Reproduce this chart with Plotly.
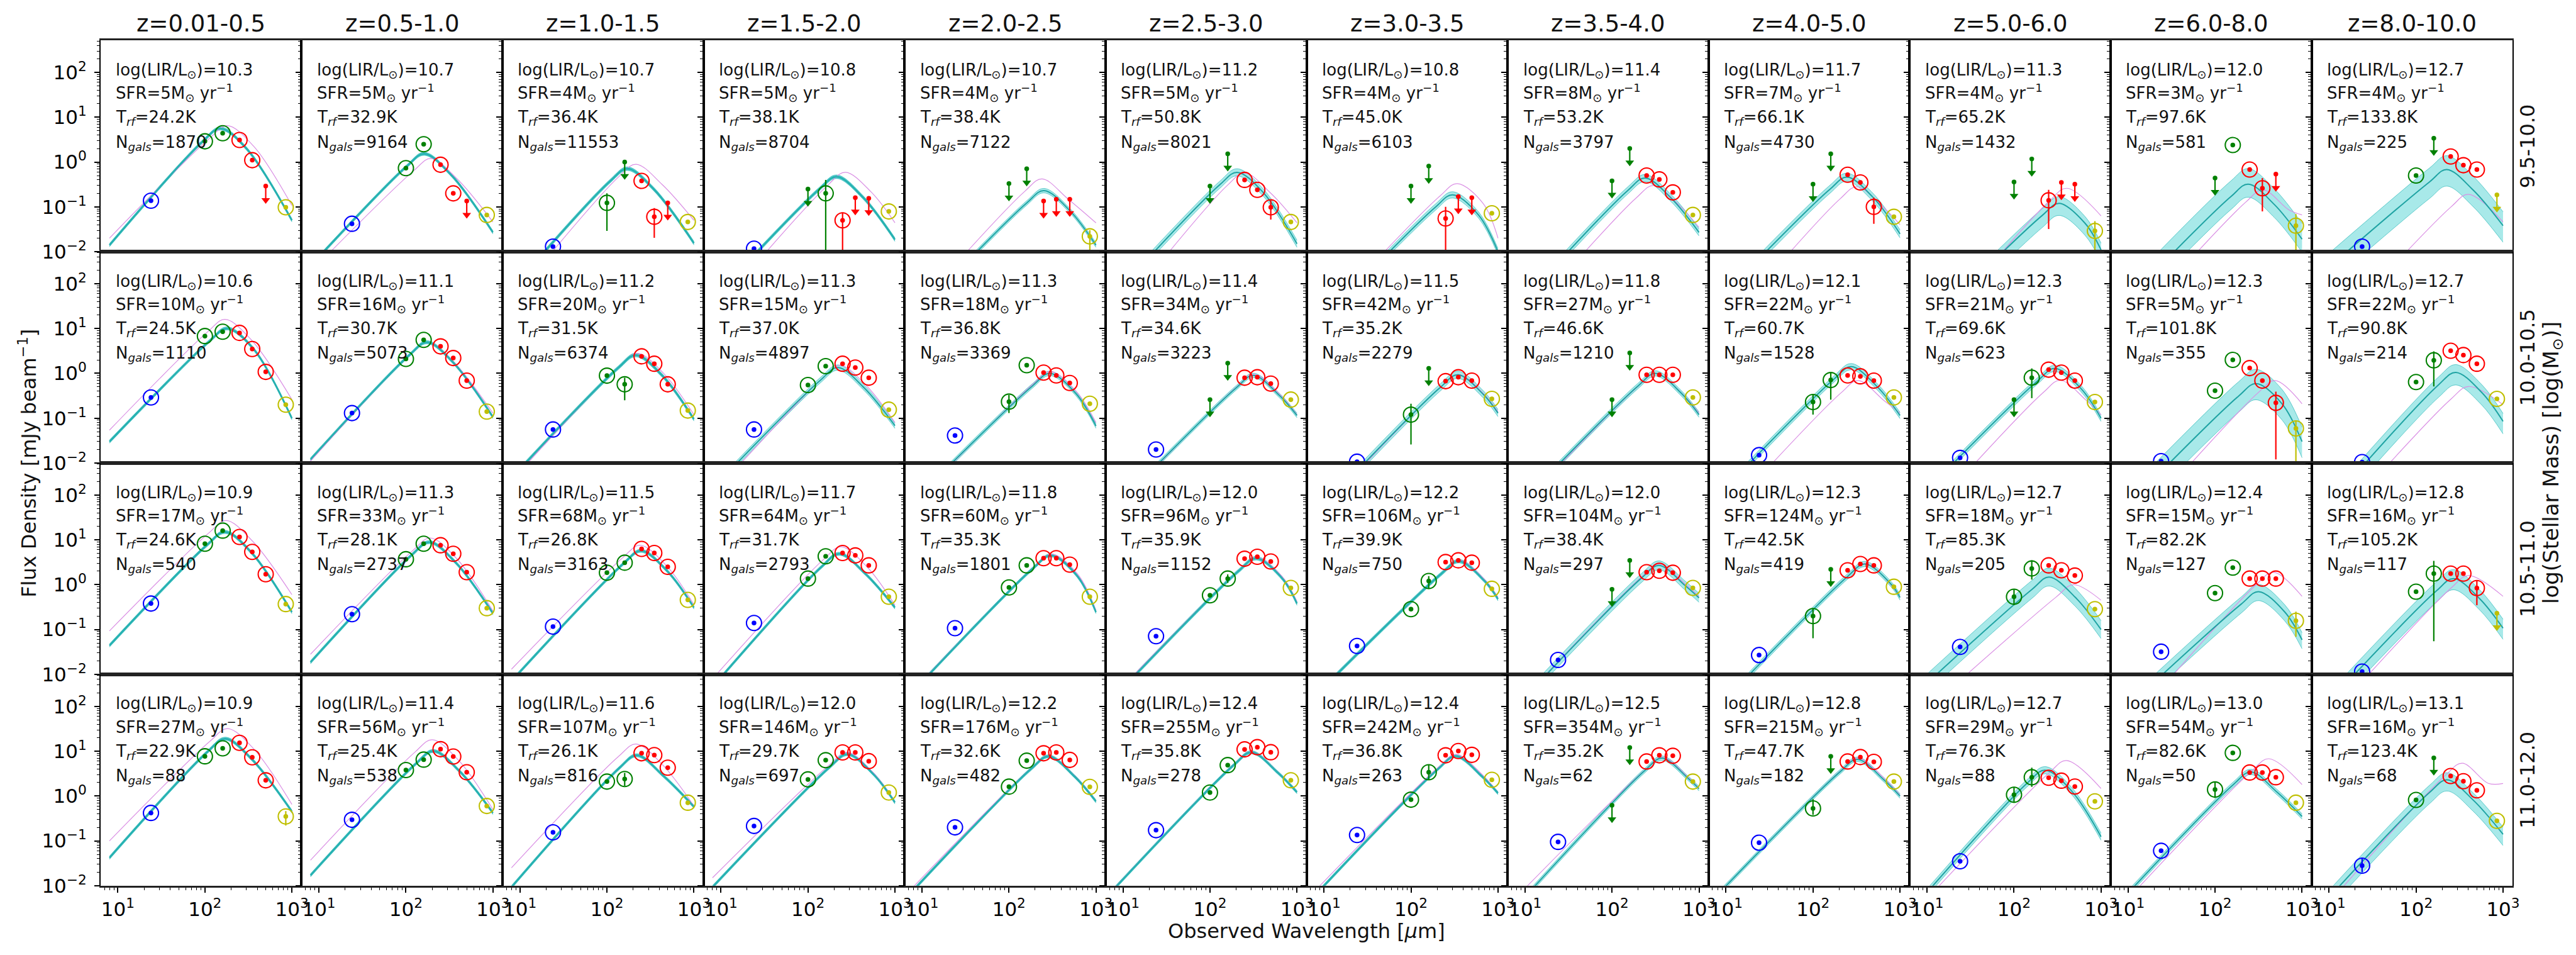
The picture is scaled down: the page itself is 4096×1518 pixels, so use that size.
import plotly.graph_objects as go

# ---------------------------------------------------------------- data
Z_BINS = ["z=0.01-0.5", "z=0.5-1.0", "z=1.0-1.5", "z=1.5-2.0", "z=2.0-2.5", "z=2.5-3.0",
          "z=3.0-3.5", "z=3.5-4.0", "z=4.0-5.0", "z=5.0-6.0", "z=6.0-8.0", "z=8.0-10.0"]
MASS_BINS = ["9.5-10.0", "10.0-10.5", "10.5-11.0", "11.0-12.0"]

LAMBDA = [24, 100, 160, 250, 350, 500, 850]          # observed wavelength [um]

LIR = [[10.3, 10.7, 10.7, 10.8, 10.7, 11.2, 10.8, 11.4, 11.7, 11.3, 12.0, 12.7],
       [10.6, 11.1, 11.2, 11.3, 11.3, 11.4, 11.5, 11.8, 12.1, 12.3, 12.3, 12.7],
       [10.9, 11.3, 11.5, 11.7, 11.8, 12.0, 12.2, 12.0, 12.3, 12.7, 12.4, 12.8],
       [10.9, 11.4, 11.6, 12.0, 12.2, 12.4, 12.4, 12.5, 12.8, 12.7, 13.0, 13.1]]
SFR = [[5, 5, 4, 5, 4, 5, 4, 8, 7, 4, 3, 4],
       [10, 16, 20, 15, 18, 34, 42, 27, 22, 21, 5, 22],
       [17, 33, 68, 64, 60, 96, 106, 104, 124, 18, 15, 16],
       [27, 56, 107, 146, 176, 255, 242, 354, 215, 29, 54, 16]]
TRF = [[24.2, 32.9, 36.4, 38.1, 38.4, 50.8, 45.0, 53.2, 66.1, 65.2, 97.6, 133.8],
       [24.5, 30.7, 31.5, 37.0, 36.8, 34.6, 35.2, 46.6, 60.7, 69.6, 101.8, 90.8],
       [24.6, 28.1, 26.8, 31.7, 35.3, 35.9, 39.9, 38.4, 42.5, 85.3, 82.2, 105.2],
       [22.9, 25.4, 26.1, 29.7, 32.6, 35.8, 36.8, 35.2, 47.7, 76.3, 82.6, 123.4]]
NGALS = [[1870, 9164, 11553, 8704, 7122, 8021, 6103, 3797, 4730, 1432, 581, 225],
         [1110, 5073, 6374, 4897, 3369, 3223, 2279, 1210, 1528, 623, 355, 214],
         [540, 2737, 3163, 2793, 1801, 1152, 750, 297, 419, 205, 127, 117],
         [88, 538, 816, 697, 482, 278, 263, 62, 182, 88, 50, 68]]

# stacked flux densities [mJy/beam] at LAMBDA (None = below the plotted range)
FLUX_M1 = [[0.137, 2.9, 4.4, 3.1, 1.1, 0.29, 0.098],
           [0.042, 0.73, 2.5, 0.87, 0.2, 0.135, 0.066],
           [0.013, 0.123, 1.0, 0.38, 0.06, 0.123, 0.046],
           [0.0117, 0.25, 0.2, 0.05, 0.16, 0.155, 0.079],
           [None, 0.33, 0.71, 0.135, 0.148, 0.148, 0.022],
           [None, 0.29, 1.53, 0.4, 0.24, 0.098, 0.046],
           [None, 0.29, 0.81, 0.055, 0.17, 0.16, 0.072],
           [None, 0.38, 2.0, 0.5, 0.41, 0.21, 0.066],
           [None, 0.32, 1.53, 0.52, 0.35, 0.1, 0.06],
           [None, 0.36, 1.17, 0.14, 0.35, 0.32, 0.029],
           [None, 0.44, 2.4, 0.68, 0.26, 0.54, 0.038],
           [0.013, 0.5, 3.4, 1.33, 0.85, 0.68, 0.185]]
FLUX_M2 = [[0.29, 6.8, 8.5, 8.0, 3.5, 1.08, 0.2],
           [0.13, 2.1, 5.6, 4.0, 2.2, 0.69, 0.14],
           [0.056, 0.89, 0.57, 2.4, 1.64, 0.57, 0.148],
           [0.056, 0.55, 1.45, 1.64, 1.35, 0.8, 0.155],
           [0.041, 0.234, 1.52, 1.04, 0.9, 0.61, 0.21],
           [0.02, 0.26, 1.69, 0.8, 0.82, 0.59, 0.26],
           [0.0107, 0.12, 1.29, 0.67, 0.82, 0.69, 0.27],
           [None, 0.26, 2.85, 0.93, 0.93, 0.93, 0.29],
           [0.015, 0.23, 0.71, 0.9, 0.86, 0.69, 0.29],
           [0.013, 0.26, 0.8, 1.21, 1.04, 0.69, 0.23],
           [0.011, 0.41, 2.0, 1.31, 0.69, 0.22, 0.059],
           [0.0105, 0.64, 1.96, 3.2, 2.56, 1.64, 0.27]]
FLUX_M3 = [[0.38, 8.2, 16.1, 11.6, 5.4, 1.71, 0.37],
           [0.22, 3.7, 8.2, 7.6, 4.9, 1.9, 0.3],
           [0.116, 1.85, 3.1, 6.3, 5.1, 2.5, 0.46],
           [0.14, 1.37, 4.3, 5.1, 4.5, 2.7, 0.54],
           [0.107, 0.87, 2.7, 3.9, 3.9, 2.8, 0.54],
           [0.071, 0.58, 1.37, 3.8, 4.2, 3.3, 0.85],
           [0.043, 0.285, 1.21, 3.2, 3.5, 3.1, 0.81],
           [0.021, 0.79, 3.5, 1.9, 2.05, 1.85, 0.85],
           [0.027, 0.2, 2.2, 2.1, 2.9, 2.7, 0.9],
           [0.041, 0.54, 2.3, 2.7, 2.1, 1.6, 0.285],
           [0.032, 0.65, 2.4, 1.37, 1.37, 1.37, 0.157],
           [0.0115, 0.7, 1.77, 1.77, 1.77, 0.84, 0.23]]
FLUX_M4 = [[0.42, 7.7, 11.6, 15.4, 7.3, 2.24, 0.35],
           [0.295, 3.8, 6.5, 11.1, 7.6, 3.4, 0.6],
           [0.155, 2.1, 2.4, 9.0, 8.2, 4.3, 0.71],
           [0.215, 2.35, 6.3, 9.4, 9.4, 6.0, 1.2],
           [0.2, 1.62, 6.15, 9.0, 9.4, 6.4, 1.6],
           [0.173, 1.2, 4.9, 11.0, 12.3, 9.5, 2.25],
           [0.135, 0.83, 3.4, 8.1, 10.1, 8.3, 2.3],
           [0.095, 0.62, 12.1, 5.9, 8.1, 7.9, 2.1],
           [0.091, 0.53, 7.7, 5.9, 7.4, 5.8, 2.1],
           [0.035, 1.07, 2.63, 2.56, 2.2, 1.63, 0.76],
           [0.06, 1.4, 9.2, 3.35, 3.35, 2.63, 0.71],
           [0.028, 0.82, 7.1, 2.8, 2.14, 1.34, 0.28]]
FLUX = [FLUX_M1, FLUX_M2, FLUX_M3, FLUX_M4]

# indices (into LAMBDA) that are upper limits
UPLIM = [[[5], [5], [2, 5], [1, 4, 5], [1, 2, 3, 4, 5], [1, 2], [1, 2, 4, 5], [1, 2], [1, 2],
          [1, 2, 4, 5], [1, 5], [2, 6]],
         [[], [], [], [], [], [1, 2], [2], [1, 2], [], [1], [], []],
         [[], [], [], [], [], [], [], [1, 2], [2], [], [], [6]],
         [[], [], [], [], [], [], [], [1, 2], [2], [], [], [2]]]

# (row, col, band) -> (lower, upper) of the error bar
ERRBARS = {(0, 2, 1): (0.029, 0.2), (0, 2, 4): (0.0204, 0.094), (0, 3, 2): (0.004, 0.4),
           (0, 3, 3): (0.004, 0.075), (0, 4, 6): (0.004, 0.03), (0, 5, 5): (0.052, 0.14),
           (0, 6, 3): (0.004, 0.1), (0, 8, 5): (0.042, 0.16), (0, 9, 3): (0.032, 0.24),
           (0, 9, 6): (0.004, 0.048), (0, 10, 4): (0.079, 0.44), (0, 10, 6): (0.004, 0.069),
           (1, 2, 2): (0.25, 0.8), (1, 4, 1): (0.13, 0.33), (1, 6, 1): (0.026, 0.21),
           (1, 8, 1): (0.12, 0.33), (1, 8, 2): (0.26, 1.04), (1, 9, 2): (0.28, 1.29),
           (1, 10, 5): (0.012, 0.39), (1, 10, 6): (0.004, 0.085), (1, 11, 2): (0.51, 3.1),
           (2, 5, 2): (1.1, 1.7), (2, 6, 2): (0.8, 1.55), (2, 8, 1): (0.064, 0.3),
           (2, 9, 1): (0.35, 0.8), (2, 9, 2): (1.3, 3.5), (2, 10, 6): (0.069, 0.25),
           (2, 11, 2): (0.055, 3.4), (2, 11, 5): (0.35, 1.25), (3, 0, 6): (0.22, 0.46),
           (3, 2, 2): (1.7, 3.3), (3, 6, 2): (2.3, 5.1), (3, 8, 1): (0.38, 0.85),
           (3, 9, 1): (0.7, 1.6), (3, 9, 2): (1.6, 4.3), (3, 10, 1): (0.9, 2.0),
           (3, 11, 0): (0.02, 0.04)}

# best-fit SED (cyan): peak wavelength, peak flux, flux at 8um, flux at 1000um
CYAN_PEAK_LAM = [[151, 162, 172, 213, 252, 205, 300, 240, 245, 330, 240, 225],
                 [180, 175, 215, 221, 295, 316, 345, 316, 275, 295, 295, 286],
                 [170, 186, 247, 230, 303, 340, 355, 347, 395, 253, 316, 270],
                 [172, 207, 221, 285, 285, 300, 327, 376, 324, 227, 258, 227]]
CYAN_PEAK_FLUX = [[5.6, 1.53, 0.71, 0.47, 0.23, 0.59, 0.185, 0.44, 0.46, 0.12, 0.32, 0.68],
                  [10.1, 4.95, 2.56, 1.35, 1.0, 0.9, 0.93, 1.0, 1.41, 1.29, 0.59, 1.05],
                  [15, 8.9, 5.7, 4.9, 4.5, 3.9, 3.36, 2.7, 2.9, 1.48, 0.7, 1.37],
                  [19, 10.1, 8.1, 8.6, 7.7, 9.5, 7.8, 7.0, 6.6, 3.77, 3.45, 2.3]]
CYAN_LEFT = [[0.014, 0.0048, 0.00144, 8.5e-4, 3.4e-4, 1.1e-3, 2.0e-4, 5.6e-4, 7.8e-4, 1.4e-4, 5.6e-4, 3.1e-3],
             [0.03, 0.012, 4.6e-3, 2.7e-3, 1.4e-3, 9.8e-4, 7.1e-4, 1.0e-3, 1.8e-3, 1.6e-3, 7.4e-4, 7.4e-4],
             [0.044, 0.0186, 7.1e-3, 5.2e-3, 4.3e-3, 3.2e-3, 3.4e-3, 1.95e-3, 1.8e-3, 4.3e-3, 1.3e-3, 1.55e-3],
             [0.042, 0.017, 9.3e-3, 9.3e-3, 8.0e-3, 8.7e-3, 6.3e-3, 3.5e-3, 6.3e-3, 4.3e-3, 4.3e-3, 3.4e-3]]
CYAN_RIGHT = [[0.05, 0.027, 0.0155, 0.0186, 0.014, 0.015, 0.01, 0.027, 0.025, 0.011, 0.019, 0.038],
              [0.099, 0.106, 0.095, 0.068, 0.067, 0.115, 0.13, 0.12, 0.115, 0.1, 0.03, 0.085],
              [0.245, 0.23, 0.31, 0.31, 0.245, 0.38, 0.48, 0.51, 0.52, 0.1, 0.059, 0.107],
              [0.45, 0.42, 0.58, 0.72, 0.76, 1.22, 1.16, 1.46, 1.0, 0.124, 0.35, 0.14]]
# uncertainty band of the fit (dex above / below)
CYAN_BAND_UP = [[0.035, 0.035, 0.04, 0.04, 0.05, 0.08, 0.07, 0.08, 0.09, 0.15, 0.35, 0.31],
                [0.035, 0.035, 0.04, 0.06, 0.05, 0.05, 0.08, 0.06, 0.07, 0.07, 0.32, 0.175],
                [0.035, 0.035, 0.035, 0.035, 0.035, 0.04, 0.04, 0.1, 0.06, 0.2, 0.16, 0.2],
                [0.035, 0.035, 0.035, 0.035, 0.035, 0.035, 0.035, 0.05, 0.05, 0.08, 0.06, 0.16]]
CYAN_BAND_DN = [[0.035, 0.035, 0.04, 0.04, 0.05, 0.08, 0.07, 0.08, 0.09, 0.27, 0.29, 0.37],
                [0.035, 0.035, 0.04, 0.06, 0.05, 0.05, 0.08, 0.06, 0.07, 0.07, 0.36, 0.28],
                [0.035, 0.035, 0.035, 0.035, 0.035, 0.04, 0.04, 0.1, 0.06, 0.2, 0.2, 0.25],
                [0.035, 0.035, 0.035, 0.035, 0.035, 0.035, 0.035, 0.05, 0.05, 0.08, 0.06, 0.25]]

# comparison SED (magenta)
MAG_PEAK_LAM = [[180, 193, 216, 270, 240, 250, 340, 300, 320, 405, 355, 400],
                [170, 178, 225, 235, 300, 320, 350, 320, 330, 340, 490, 400],
                [175, 190, 240, 240, 310, 345, 360, 350, 400, 480, 470, 400],
                [182, 200, 215, 280, 285, 300, 330, 380, 330, 400, 415, 340]]
MAG_PEAK_FLUX = [[6.5, 1.2, 0.89, 0.59, 0.42, 0.57, 0.33, 0.3, 0.28, 0.26, 0.24, 0.19],
                 [16, 5.0, 2.8, 1.5, 1.1, 0.95, 0.95, 1.0, 0.69, 0.7, 0.69, 0.51],
                 [27, 11, 7.6, 7.0, 4.8, 4.1, 3.5, 2.9, 3.0, 1.0, 1.9, 1.6],
                 [32, 18, 14.5, 9.5, 8.0, 9.8, 8.5, 7.3, 7.0, 6.2, 6.8, 5.4]]
MAG_LEFT = [[0.02, 3.5e-3, 7.9e-4, 4.0e-4, 4.7e-4, 3.1e-4, 2.3e-4, 1.9e-4, 1.35e-4, 6.3e-5, 1.2e-4, 8.5e-5],
            [0.054, 0.011, 4.0e-3, 2.0e-3, 1.26e-3, 8.9e-4, 6.3e-4, 8.9e-4, 4.7e-4, 4.1e-4, 1.6e-4, 1.95e-4],
            [0.093, 0.028, 0.013, 7.9e-3, 4.5e-3, 3.5e-3, 3.5e-3, 2.0e-3, 1.8e-3, 1.1e-3, 4.1e-4, 6.5e-4],
            [0.1, 0.037, 0.025, 0.015, 9.5e-3, 9.0e-3, 7.9e-3, 5.6e-3, 6.3e-3, 3.2e-3, 3.2e-3, 2.5e-3]]
MAG_RIGHT = [[0.107, 0.046, 0.05, 0.044, 0.044, 0.044, 0.02, 0.035, 0.04, 0.063, 0.066, 0.046],
             [0.26, 0.13, 0.12, 0.08, 0.08, 0.12, 0.14, 0.13, 0.13, 0.12, 0.21, 0.2],
             [0.6, 0.26, 0.36, 0.35, 0.27, 0.42, 0.52, 0.55, 0.55, 0.45, 0.55, 0.55],
             [0.65, 0.5, 0.6, 0.75, 0.78, 1.25, 1.2, 1.5, 1.05, 1.47, 1.8, 1.9]]

# SED shape: wavelength span and rounded-peak offsets (dex)
LAM_LEFT, LAM_RIGHT = 8.0, 1000.0
KNEE_DLAM, KNEE_DFLUX = -0.2, -0.28
SHOULDER_DLAM, SHOULDER_DFLUX = 0.3, -0.45
SHOULDER_MAX_LAM = 790.0

# ---------------------------------------------------------------- style
W, H = 4096, 1518
GRID_L, GRID_R, GRID_T, GRID_B = 160.2, 4006.0, 64.9, 1424.7
NROWS, NCOLS = 4, 12
COL_W = (GRID_R - GRID_L) / NCOLS
ROW_H = (GRID_B - GRID_T) / NROWS
FONT = "DejaVu Sans"
BAND_COLORS = ['#0000ff', '#008000', '#008000', '#ff0000', '#ff0000', '#ff0000', '#bfbf00']
ARROW_DEX = 0.31
TXT_Y = [0.857, 0.752, 0.633, 0.515]


def curve(lp, sp, sl, sr):
    xs = [LAM_LEFT, lp * 10 ** KNEE_DLAM, lp]
    ys = [sl, sp * 10 ** KNEE_DFLUX, sp]
    ls = lp * 10 ** SHOULDER_DLAM
    if ls < SHOULDER_MAX_LAM:
        xs.append(ls)
        ys.append(sp * 10 ** SHOULDER_DFLUX)
    xs.append(LAM_RIGHT)
    ys.append(sr)
    return xs, ys


fig = go.Figure()
annotations = []
layout_axes = {}

ytick_vals = [0.01, 0.1, 1, 10, 100]
ytick_text = ["10<sup>\u22122</sup>", "10<sup>\u22121</sup>", "10<sup>0</sup>",
              "10<sup>1</sup>", "10<sup>2</sup>"]
y_minor = [m * 10 ** e for e in range(-2, 3) for m in range(2, 10) if m * 10 ** e < 519]
xtick_vals = [10, 100, 1000]
xtick_text = ["10<sup>1</sup>", "10<sup>2</sup>", "10<sup>3</sup>"]
x_minor = [m * 10 ** e for e in range(0, 4) for m in range(2, 10) if 6.3 < m * 10 ** e < 1280]

for r in range(NROWS):
    for c in range(NCOLS):
        k = r * NCOLS + c + 1
        sfx = '' if k == 1 else str(k)
        xr, yr = 'x' + sfx, 'y' + sfx

        x0 = (GRID_L + c * COL_W) / W
        x1 = (GRID_L + (c + 1) * COL_W) / W
        y1 = 1 - (GRID_T + r * ROW_H) / H
        y0 = 1 - (GRID_T + (r + 1) * ROW_H) / H
        bottom = (r == NROWS - 1)
        layout_axes['xaxis' + sfx] = dict(
            domain=[x0, x1], anchor=yr, type='log', range=[0.8, 3.11],
            showline=True, linecolor='#222', linewidth=2.6, mirror=True,
            showgrid=False, zeroline=False,
            ticks='outside' if bottom else '', ticklen=8, tickwidth=1.5, tickcolor='black',
            tickmode='array', tickvals=xtick_vals, ticktext=xtick_text,
            showticklabels=bottom, tickfont=dict(family=FONT, size=31, color='black'),
            minor=dict(tickmode='array', tickvals=x_minor, ticks='outside' if bottom else '',
                       ticklen=4, tickwidth=1, tickcolor='black', showgrid=False),
        )
        layout_axes['yaxis' + sfx] = dict(
            domain=[y0, y1], anchor=xr, type='log', range=[-2.0, 2.715],
            showline=True, linecolor='black', linewidth=1.5, mirror=True,
            showgrid=False, zeroline=False,
            ticks='outside', ticklen=8, tickwidth=1.5, tickcolor='black',
            tickmode='array', tickvals=ytick_vals, ticktext=ytick_text,
            showticklabels=(c == 0), tickfont=dict(family=FONT, size=31, color='black'),
            ticklabelstandoff=6,
            minor=dict(tickmode='array', tickvals=y_minor, ticks='outside',
                       ticklen=4, tickwidth=1, tickcolor='black', showgrid=False),
        )

        # ---- model band + curves
        cx, cy = curve(CYAN_PEAK_LAM[r][c], CYAN_PEAK_FLUX[r][c], CYAN_LEFT[r][c], CYAN_RIGHT[r][c])
        up = [v * 10 ** CYAN_BAND_UP[r][c] for v in cy]
        dn = [v * 10 ** (-CYAN_BAND_DN[r][c]) for v in cy]
        narrow = CYAN_BAND_UP[r][c] + CYAN_BAND_DN[r][c] < 0.1
        fig.add_trace(go.Scatter(x=cx, y=up, mode='lines', xaxis=xr, yaxis=yr,
                                 line=dict(color='rgba(0,170,170,0.55)', width=1, shape='spline'),
                                 showlegend=False, hoverinfo='skip'))
        fig.add_trace(go.Scatter(x=cx, y=dn, mode='lines', xaxis=xr, yaxis=yr, fill='tonexty',
                                 fillcolor='rgba(0,190,190,0.34)' if not narrow else 'rgba(0,185,185,0.6)',
                                 line=dict(color='rgba(0,170,170,0.55)', width=1, shape='spline'),
                                 showlegend=False, hoverinfo='skip'))
        mx, my = curve(MAG_PEAK_LAM[r][c], MAG_PEAK_FLUX[r][c], MAG_LEFT[r][c], MAG_RIGHT[r][c])
        fig.add_trace(go.Scatter(x=mx, y=my, mode='lines', xaxis=xr, yaxis=yr,
                                 line=dict(color='#da8fe4', width=1.2, shape='spline'),
                                 showlegend=False, hoverinfo='skip'))
        fig.add_trace(go.Scatter(x=cx, y=cy, mode='lines', xaxis=xr, yaxis=yr,
                                 line=dict(color='#26b0b0' if narrow else '#1fa3a3',
                                           width=2.6 if narrow else 2.0, shape='spline'),
                                 showlegend=False, hoverinfo='skip'))

        # ---- photometry
        ring_x, ring_y, ring_c = [], [], []
        dot_x, dot_y, dot_c = [], [], []
        head_x, head_y, head_c = [], [], []
        segs = {}
        for i, lam in enumerate(LAMBDA):
            v = FLUX[r][c][i]
            if v is None:
                continue
            col = BAND_COLORS[i]
            sx, sy = segs.setdefault(col, ([], []))
            dot_x.append(lam); dot_y.append(v); dot_c.append(col)
            if i in UPLIM[r][c]:
                tip = v * 10 ** (-ARROW_DEX)
                sx += [lam, lam, None]; sy += [v, tip, None]
                head_x.append(lam); head_y.append(tip); head_c.append(col)
            else:
                ring_x.append(lam); ring_y.append(v); ring_c.append(col)
                if (r, c, i) in ERRBARS:
                    lo, hi = ERRBARS[(r, c, i)]
                    sx += [lam, lam, None]; sy += [lo, hi, None]
        for col, (sx, sy) in segs.items():
            if sx:
                fig.add_trace(go.Scatter(x=sx, y=sy, mode='lines', xaxis=xr, yaxis=yr,
                                         line=dict(color=col, width=2.2),
                                         showlegend=False, hoverinfo='skip'))
        if ring_x:
            fig.add_trace(go.Scatter(x=ring_x, y=ring_y, mode='markers', xaxis=xr, yaxis=yr,
                                     marker=dict(symbol='circle-open', size=24, color=ring_c,
                                                 line=dict(width=2.1)),
                                     showlegend=False, hoverinfo='skip'))
        if head_x:
            fig.add_trace(go.Scatter(x=head_x, y=head_y, mode='markers', xaxis=xr, yaxis=yr,
                                     marker=dict(symbol='triangle-down', size=12, color=head_c,
                                                 line=dict(width=0)),
                                     showlegend=False, hoverinfo='skip'))
        fig.add_trace(go.Scatter(x=dot_x, y=dot_y, mode='markers', xaxis=xr, yaxis=yr,
                                 marker=dict(symbol='circle', size=7.5, color=dot_c,
                                             line=dict(width=0)),
                                 showlegend=False, hoverinfo='skip'))

        # ---- panel text
        lines = [f"log(LIR/L<sub>\u2299</sub>)={LIR[r][c]:.1f}",
                 f"SFR={SFR[r][c]}M<sub>\u2299</sub> yr<sup>\u22121</sup>",
                 f"T<sub><i>rf</i></sub>={TRF[r][c]:.1f}K",
                 f"N<sub><i>gals</i></sub>={NGALS[r][c]}"]
        for t, yy in zip(lines, TXT_Y):
            annotations.append(dict(text=t, x=0.07, y=yy, xref=xr + ' domain', yref=yr + ' domain',
                                    xanchor='left', yanchor='middle', showarrow=False,
                                    font=dict(family=FONT, size=26, color='#111')))

# column titles
for c, zt in enumerate(Z_BINS):
    annotations.append(dict(text=zt, x=(GRID_L + (c + 0.5) * COL_W) / W, y=1 - 38 / H,
                            xref='paper', yref='paper', xanchor='center', yanchor='middle',
                            showarrow=False, font=dict(family=FONT, size=37, color='#111')))
# row labels
for r, mt in enumerate(MASS_BINS):
    annotations.append(dict(text=mt, x=4030 / W, y=1 - (GRID_T + (r + 0.5) * ROW_H) / H,
                            xref='paper', yref='paper', xanchor='center', yanchor='middle',
                            textangle=-90, showarrow=False,
                            font=dict(family=FONT, size=32, color='#111')))
mid_y = 1 - (GRID_T + GRID_B) / 2 / H
annotations.append(dict(text="log(Stellar Mass) [log(M<sub>\u2299</sub>)]", x=4070 / W, y=mid_y,
                        xref='paper', yref='paper', xanchor='center', yanchor='middle',
                        textangle=-90, showarrow=False,
                        font=dict(family=FONT, size=34, color='#111')))
annotations.append(dict(text="Flux Density [mJy beam<sup>\u22121</sup>]", x=44 / W, y=mid_y,
                        xref='paper', yref='paper', xanchor='center', yanchor='middle',
                        textangle=-90, showarrow=False,
                        font=dict(family=FONT, size=32, color='#111')))
annotations.append(dict(text="Observed Wavelength [<i>\u03bc</i>m]",
                        x=(GRID_L + GRID_R) / 2 / W, y=1 - 1498 / H,
                        xref='paper', yref='paper', xanchor='center', yanchor='middle',
                        showarrow=False, font=dict(family=FONT, size=32, color='#111')))

fig.update_layout(width=W, height=H, margin=dict(l=0, r=0, t=0, b=0),
                  paper_bgcolor='white', plot_bgcolor='white', showlegend=False,
                  hovermode=False, annotations=annotations, **layout_axes)

fig.write_html("out.html")
